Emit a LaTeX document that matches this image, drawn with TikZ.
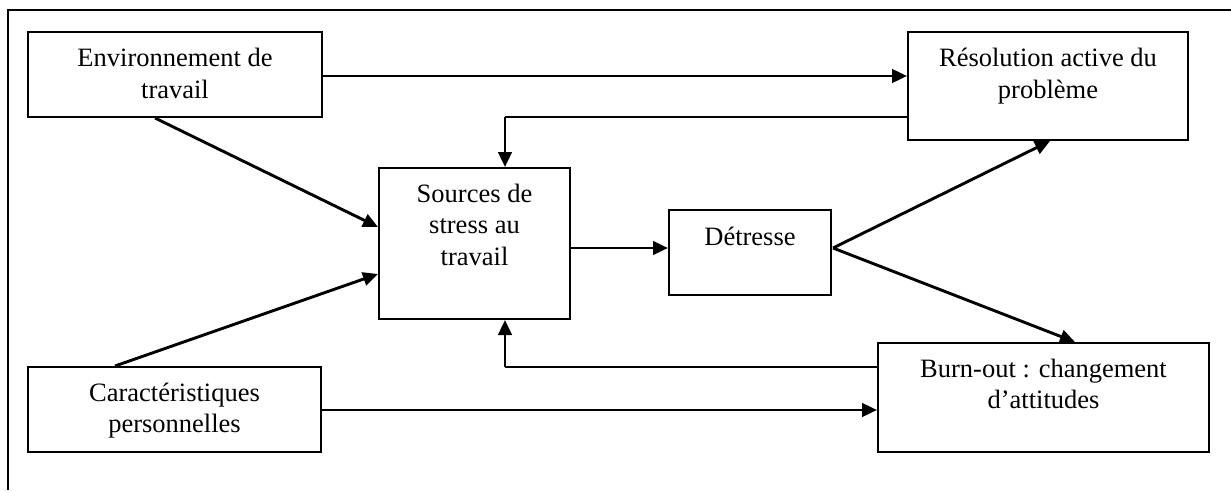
\documentclass[tikz,border=0pt]{standalone}
\usepackage{fontspec}
\setmainfont{Liberation Serif}
\usetikzlibrary{arrows.meta,calc}
\begin{document}
\begin{tikzpicture}[x=1pt,y=-1pt,
  box/.style 2 args={draw, line width=2pt, inner sep=0pt,
    minimum width=#1, minimum height=#2},
  txt/.style={anchor=base, align=center, inner sep=0pt,
    font=\fontsize{26.5}{31.5}\selectfont},
  link/.style={line width=2.9pt, -{Triangle[length=15pt,width=13.5pt]}},
  plain/.style={line width=2.9pt},
  frameline/.style={line width=2pt}]
  \useasboundingbox (0,0) rectangle (1231,490);

  % outer frame (left and top edges)
  \coordinate (fbl) at (8,490);
  \coordinate (ftl) at (8,10);
  \coordinate (ftr) at (1231,10);
  \draw[frameline] (fbl) -- (ftl) -- (ftr);

  % boxes
  \node[box={294pt}{85pt}]  (env)  at (175,74.5)    {};
  \node[box={280pt}{108pt}] (res)  at (1048,86)     {};
  \node[box={191pt}{151pt}] (src)  at (474.5,243.5) {};
  \node[box={162pt}{85pt}]  (det)  at (750,252.5)   {};
  \node[box={293pt}{85pt}]  (car)  at (174.5,409.5) {};
  \node[box={331pt}{109pt}] (burn) at (1043.5,397.5){};

  % box texts, placed by the baseline of their last line
  \node[txt] (envT)  at ($(env.north)+(0,67)$)   {Environnement de\\travail};
  \node[txt] (resT)  at ($(res.north)+(0,67)$)   {Résolution active du\\problème};
  \node[txt] (srcT)  at ($(src.north)+(0,98)$)   {Sources de\\stress au\\travail};
  \node[txt] (detT)  at ($(det.north)+(0,36)$)   {Détresse};
  \node[txt] (carT)  at ($(car.north)+(0,66.5)$) {Caractéristiques\\personnelles};
  \node[txt] (burnT) at ($(burn.north)+(0,66.5)$){Burn-out : changement\\d’attitudes};

  % end points of the links
  \coordinate (envE)  at ($(env.east)+(0,1.5)$);
  \coordinate (carE)  at ($(car.east)+(0,0.5)$);
  \coordinate (srcE)  at ($(src.east)+(0,4.5)$);
  \coordinate (envS)  at ($(env.south)+(-20,0)$);
  \coordinate (carN)  at ($(car.north)+(-59.5,0)$);
  \coordinate (srcW1) at ($(src.west)+(0,-16.5)$);
  \coordinate (srcW2) at ($(src.west)+(0,30.5)$);
  \coordinate (detE)  at ($(det.east)+(1,-4.5)$);
  \coordinate (resS)  at ($(res.south)+(2,0)$);
  \coordinate (burnN) at ($(burn.north)+(31.5,0)$);

  % straight links
  \draw[link] (envE) -- (envE -| res.west);
  \draw[link] (carE) -- (carE -| burn.west);
  \draw[link] (srcE) -- (srcE -| det.west);
  \draw[link] (envS) -- (srcW1);
  \draw[link] (carN) -- (srcW2);
  \draw[link] (detE) -- (resS);
  \draw[link] (detE) -- (burnN);

  % feedback loops into the stress sources
  \coordinate (fbUp) at ($(src.north)+(30.5,0)$);
  \coordinate (fbDn) at ($(src.south)+(30.5,0)$);
  \coordinate (resW) at ($(res.west)+(0,31)$);
  \coordinate (burnW) at ($(burn.west)+(0,-30.5)$);
  \draw[plain] (resW) -- (resW -| fbUp);
  \draw[link] (resW -| fbUp) -- (fbUp);
  \draw[plain] (burnW) -- (burnW -| fbDn);
  \draw[link] (burnW -| fbDn) -- (fbDn);
\end{tikzpicture}
\end{document}
